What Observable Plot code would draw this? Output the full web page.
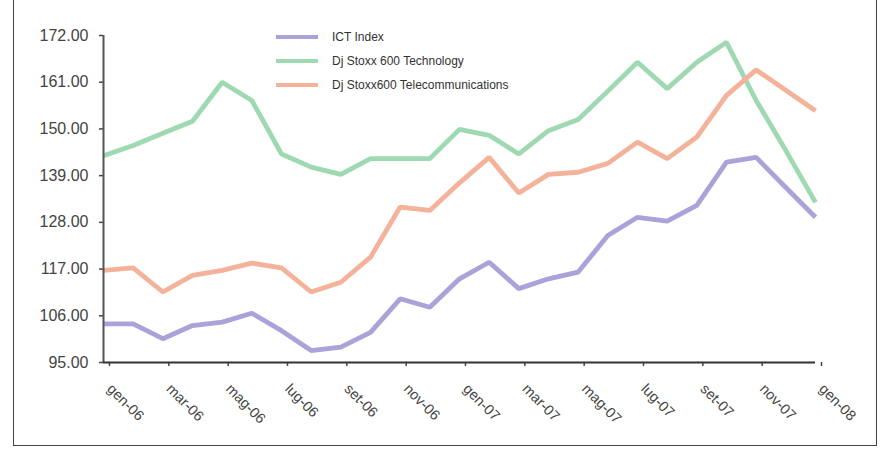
<!DOCTYPE html>
<html>
<head>
<meta charset="utf-8">
<script src="https://cdn.jsdelivr.net/npm/d3@7"></script>
<script src="https://cdn.jsdelivr.net/npm/@observablehq/plot@0.6"></script>
<style>
  html, body { margin: 0; padding: 0; background: #fff; }
  #wrap { position: relative; width: 891px; height: 452px; overflow: hidden; }
  #frame { position: absolute; left: 13px; top: -4px; width: 864px; height: 450px; border: 1.6px solid #444; box-sizing: border-box; pointer-events: none; }
  #legend { position: absolute; left: 276px; top: 25px; font-family: "Liberation Sans", Arial, sans-serif; font-size: 12px; color: #333; }
  .item { display: flex; align-items: center; height: 24px; }
  .sw { width: 42px; height: 4px; margin-right: 14px; }
</style>
</head>
<body>
<div id="wrap">
  <div id="chart"></div>
  <div id="frame"></div>
  <div id="legend"></div>
</div>
<script>
const monthLabels = ["gen-06","feb-06","mar-06","apr-06","mag-06","giu-06","lug-06","ago-06","set-06","ott-06","nov-06","dic-06",
  "gen-07","feb-07","mar-07","apr-07","mag-07","giu-07","lug-07","ago-07","set-07","ott-07","nov-07","dic-07","gen-08"];
const seriesNames = ["ICT Index", "Dj Stoxx 600 Technology", "Dj Stoxx600 Telecommunications"];
const seriesColors = ["#a9a3da", "#9fd9b2", "#f5b29a"];
const ictIndex = [104.1,104.1,100.6,103.7,104.5,106.6,102.5,97.8,98.6,102.1,110.0,108.0,
  114.7,118.6,112.4,114.7,116.3,124.9,129.2,128.3,132.0,142.2,143.3,136.2,129.2];
const technology = [143.7,146.1,149.0,151.8,161.0,156.7,144.1,141.0,139.3,143.0,143.0,143.0,
  149.9,148.5,144.1,149.6,152.2,158.9,165.7,159.5,165.7,170.4,156.7,144.9,132.7];
const telecom = [116.7,117.3,111.6,115.5,116.7,118.4,117.3,111.6,113.9,119.8,131.6,130.8,
  137.3,143.3,134.9,139.3,139.8,141.9,146.9,143.0,148.1,157.9,163.9,159.1,154.3];
const yTicks = [95,106,117,128,139,150,161,172];
const xTicks = [0,2,4,6,8,10,12,14,16,18,20,22,24];

const allSeries = [ictIndex, technology, telecom];
const rows = [];
allSeries.forEach((vals, s) => vals.forEach((v, i) => rows.push({i, v, s: seriesNames[s]})));

const font = '"Liberation Sans", Arial, sans-serif';
const chart = Plot.plot({
  width: 891, height: 452,
  marginLeft: 103, marginRight: 76, marginTop: 35, marginBottom: 90,
  style: {fontFamily: font, background: "transparent", color: "#444"},
  x: {type: "linear", domain: [0, 24], label: null},
  y: {domain: [95, 172], label: null},
  color: {domain: seriesNames, range: seriesColors},
  marks: [
    Plot.axisY({ticks: yTicks, tickFormat: d => d.toFixed(2), tickSize: 4, tickPadding: 11, fontSize: 16, stroke: "#444", strokeWidth: 1.5, label: null}),
    Plot.axisX({ticks: xTicks, tickFormat: d => monthLabels[d], tickSize: 4, tickPadding: 20, dx: 6, tickRotate: 45, fontSize: 14.5, stroke: "#444", strokeWidth: 1.5, label: null}),
    Plot.line(rows, {x: "i", y: "v", z: "s", stroke: "s", strokeWidth: 4.8, strokeLinejoin: "miter", strokeLinecap: "butt"}),
    Plot.ruleX([0], {stroke: "#555", strokeWidth: 2}),
    Plot.ruleY([95], {stroke: "#333", strokeWidth: 2})
  ]
});
document.getElementById("chart").appendChild(chart);

const legend = document.getElementById("legend");
seriesNames.forEach((n, k) => {
  const it = document.createElement("div");
  it.className = "item";
  it.innerHTML = `<div class="sw" style="background:${seriesColors[k]}"></div><span>${n}</span>`;
  legend.appendChild(it);
});
</script>
</body>
</html>
